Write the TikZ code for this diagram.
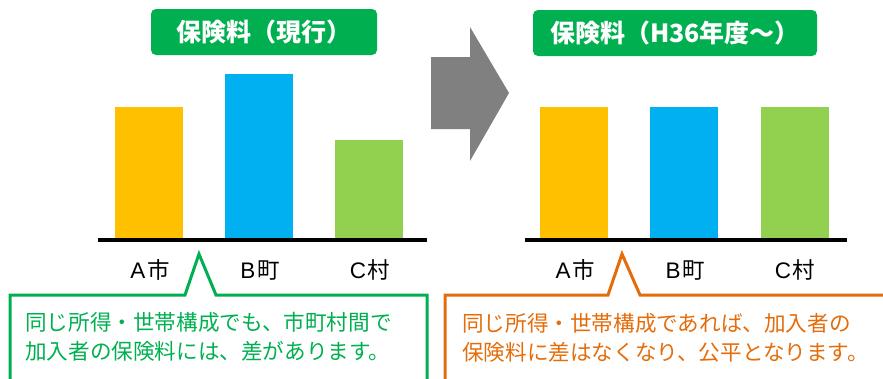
\documentclass[tikz,border=0pt]{standalone}
\usepackage{fontspec}
\setmainfont{Noto Sans CJK JP}
\newfontfamily\lat{Liberation Sans}
\definecolor{ttlgreen}{RGB}{0,176,80}
\definecolor{cgreen}{RGB}{0,176,80}
\definecolor{corange}{RGB}{228,108,10}
\definecolor{barA}{RGB}{255,192,0}
\definecolor{barB}{RGB}{0,176,240}
\definecolor{barC}{RGB}{146,208,80}
\definecolor{arrgray}{RGB}{128,128,128}
\begin{document}
\begin{tikzpicture}[x=1pt,y=-1pt,
  titlebox/.style={fill=ttlgreen, rounded corners=5pt, text=white, inner sep=0pt, outer sep=0pt,
    minimum height=46pt, font=\fontsize{25}{28}\selectfont\bfseries},
  bar/.style={draw=none, inner sep=0pt, outer sep=0pt, minimum width=68pt, anchor=south},
  axislabel/.style={anchor=base, inner sep=0pt, font=\fontsize{22.5}{25}\selectfont},
  axisline/.style={line width=4pt},
  calloutline/.style={line width=3pt, line join=miter},
  callouttext/.style={anchor=base west, inner sep=0pt, font=\fontsize{21.6}{29}\selectfont}]
\useasboundingbox (0,0) rectangle (883,378);
\clip (0,0) rectangle (883,378);

% titles
\node[titlebox, minimum width=226pt] (t1) at (264,32) {保険料（現行）};
\node[titlebox, minimum width=284pt] (t2) at (675,33) {保険料（H36年度～）};

% arrow
\fill[arrgray] (431,57) -- (470,57) -- (470,27) -- (509,93) -- (470,161) -- (470,129) -- (431,129) -- cycle;

% left bars
\node[bar, fill=barA, minimum height=131pt] (la) at (149,238) {};
\node[bar, fill=barB, minimum height=164pt] (lb) at (259,238) {};
\node[bar, fill=barC, minimum height=98pt] (lc) at (369,238) {};
\coordinate (l0) at (98,240);
\coordinate (l1) at (427,240);
\draw[axisline] (l0) -- (l1);

% right bars
\node[bar, fill=barA, minimum height=131pt] (ra) at (573.5,238) {};
\node[bar, fill=barB, minimum height=131pt] (rb) at (684,238) {};
\node[bar, fill=barC, minimum height=131pt] (rc) at (794.5,238) {};
\coordinate (r0) at (525,240);
\coordinate (r1) at (847,240);
\draw[axisline] (r0) -- (r1);

% axis labels
\node[axislabel] (lA) at (150,278) {{\lat A}\hspace{1.5pt}市};
\node[axislabel] (lB) at (260,278) {{\lat B}\hspace{1.5pt}町};
\node[axislabel] (lC) at (370,278) {{\lat C}\hspace{1.5pt}村};
\node[axislabel] (rA) at (575,278) {{\lat A}\hspace{1.5pt}市};
\node[axislabel] (rB) at (685,278) {{\lat B}\hspace{1.5pt}町};
\node[axislabel] (rC) at (795,278) {{\lat C}\hspace{1.5pt}村};

% left callout
\draw[calloutline, cgreen] (10,385) -- (10,295) -- (185,295) -- (199,254) -- (216,295) -- (427,295) -- (427,385);
\node[callouttext, text=cgreen] (g1) at (25,330) {同じ所得・世帯構成でも、市町村間で};
\node[callouttext, text=cgreen] (g2) at (25,359) {加入者の保険料には、差があります。};

% right callout
\draw[calloutline, corange] (445,385) -- (445,295) -- (608,295) -- (622,254) -- (640,295) -- (890,295);
\node[callouttext, text=corange] (o1) at (462,331) {同じ所得・世帯構成であれば、加入者の};
\node[callouttext, text=corange] (o2) at (462,360) {保険料に差はなくなり、公平となります。};
\end{tikzpicture}
\end{document}
